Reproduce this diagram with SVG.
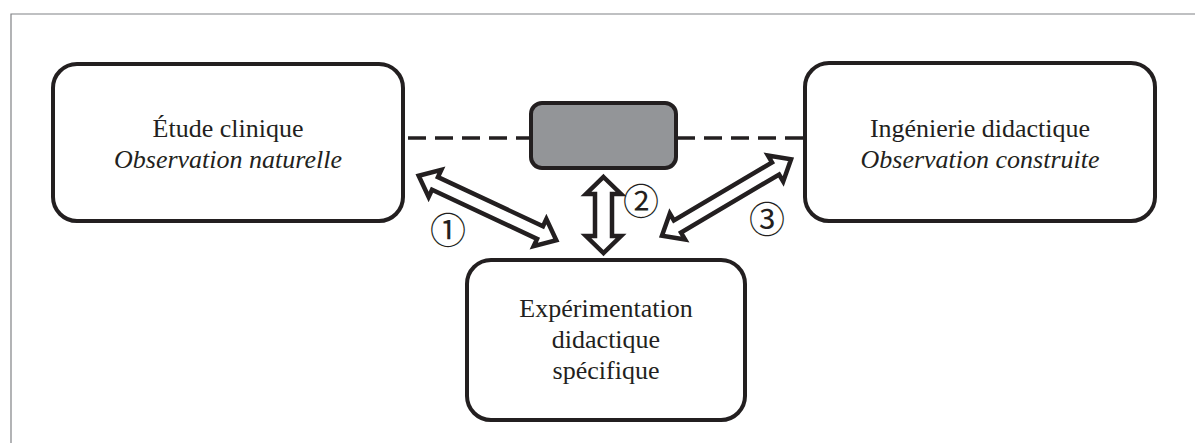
<svg xmlns="http://www.w3.org/2000/svg" width="1195" height="443" viewBox="0 0 1195 443">
<style>
.box{fill:#ffffff;stroke:#231f20;stroke-width:4}
.gray{fill:#939598;stroke:#231f20;stroke-width:4}
.t{font-family:"Liberation Serif","Times New Roman",serif;font-size:26px;fill:#231f20;text-anchor:middle}
.it{font-style:italic}
.num{font-family:"Noto Sans CJK JP","DejaVu Sans",sans-serif;font-size:36px;fill:#231f20;text-anchor:middle}
.arrow{fill:#ffffff;stroke:#231f20;stroke-width:4.5;stroke-linejoin:miter;stroke-miterlimit:6}
.dash{fill:none;stroke:#231f20;stroke-width:3.5;stroke-dasharray:18 9}
.frame{fill:none;stroke:#808285;stroke-width:1.2}
</style>
<rect width="1195" height="443" fill="#ffffff"/>
<path class="frame" d="M11 443 L11 14 L1195 14"/>
<g id="connectors">
<path class="dash" d="M408 138 L531 138"/>
<path class="dash" d="M803 138 L676 138"/>
<polygon class="arrow" transform="translate(487.5,208) rotate(25.1)" points="-76,0 -58,-15 -58,-7 58,-7 58,-15 76,0 58,15 58,7 -58,7 -58,15"/>
<polygon class="arrow" transform="translate(603.5,215) rotate(90)" points="-38,0 -21,-17.5 -21,-8.5 21,-8.5 21,-17.5 38,0 21,17.5 21,8.5 -21,8.5 -21,17.5"/>
<polygon class="arrow" transform="translate(726.5,197.5) rotate(-30.6)" points="-75,0 -57,-15 -57,-7 57,-7 57,-15 75,0 57,15 57,7 -57,7 -57,15"/>
<text class="num" x="448" y="244">①</text>
<text class="num" x="641" y="215">②</text>
<text class="num" x="767" y="233">③</text>
</g>
<g id="etude">
<rect class="box" x="53" y="64" width="350" height="157" rx="24"/>
<text class="t" x="228" y="137">Étude clinique</text>
<text class="t it" x="228" y="168">Observation naturelle</text>
</g>
<g id="ingenierie">
<rect class="box" x="805" y="63" width="350" height="158" rx="24"/>
<text class="t" x="980" y="137">Ingénierie didactique</text>
<text class="t it" x="980" y="168">Observation construite</text>
</g>
<g id="central">
<rect class="gray" x="531" y="103" width="145" height="65" rx="11"/>
</g>
<g id="experimentation">
<rect class="box" x="467" y="260" width="278" height="160" rx="24"/>
<text class="t" x="606" y="317">Expérimentation</text>
<text class="t" x="606" y="348">didactique</text>
<text class="t" x="606" y="379">spécifique</text>
</g>
</svg>
